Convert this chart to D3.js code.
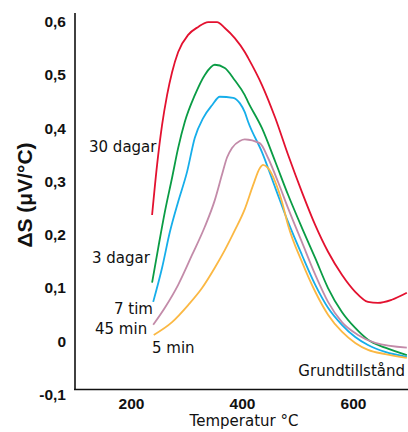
<!DOCTYPE html>
<html>
<head>
<meta charset="utf-8">
<script src="https://cdn.jsdelivr.net/npm/d3@7/dist/d3.min.js"></script>
<style>
  body { margin: 0; background: #fff; }
  svg text { fill: #111; }
</style>
</head>
<body>
<div id="chart"></div>
<script>
// ------- Data -------
const yTicks = [-0.1, 0, 0.1, 0.2, 0.3, 0.4, 0.5, 0.6]
const xTicks = [200, 400, 600]

const red_T = [238, 247, 256, 265, 274, 285, 303, 321, 339, 355, 369, 387, 405, 411, 436, 460, 483, 508, 532, 555, 580, 604, 627, 645, 670, 697]
const red_v = [0.234, 0.328, 0.403, 0.459, 0.502, 0.54, 0.572, 0.587, 0.596, 0.596, 0.585, 0.566, 0.54, 0.529, 0.478, 0.416, 0.347, 0.277, 0.215, 0.165, 0.122, 0.09, 0.071, 0.069, 0.075, 0.088]

const green_T = [238, 249, 261, 274, 285, 297, 315, 333, 351, 369, 387, 405, 411, 436, 460, 483, 508, 532, 555, 580, 604, 627, 658, 697]
const green_v = [0.107, 0.172, 0.24, 0.304, 0.36, 0.409, 0.459, 0.497, 0.516, 0.51, 0.487, 0.459, 0.446, 0.397, 0.334, 0.272, 0.21, 0.153, 0.097, 0.052, 0.022, 0.0, -0.015, -0.029]

const blue_T = [240, 256, 270, 285, 301, 315, 330, 346, 360, 384, 396, 405, 411, 436, 460, 483, 508, 532, 555, 580, 604, 627, 658, 697]
const blue_v = [0.071, 0.135, 0.202, 0.259, 0.315, 0.379, 0.416, 0.44, 0.456, 0.454, 0.444, 0.427, 0.409, 0.352, 0.285, 0.221, 0.159, 0.103, 0.06, 0.028, 0.005, -0.01, -0.023, -0.032]

const mauve_T = [240, 261, 285, 310, 333, 351, 364, 373, 382, 396, 405, 432, 447, 465, 483, 508, 532, 555, 580, 609, 640, 697]
const mauve_v = [0.028, 0.06, 0.103, 0.159, 0.212, 0.262, 0.31, 0.342, 0.36, 0.373, 0.376, 0.369, 0.341, 0.296, 0.247, 0.183, 0.122, 0.071, 0.033, 0.009, -0.006, -0.015]

const yellow_T = [241, 274, 303, 328, 351, 369, 387, 405, 420, 432, 438, 447, 460, 472, 483, 508, 532, 555, 580, 604, 627, 658, 697]
const yellow_v = [0.009, 0.033, 0.065, 0.097, 0.135, 0.168, 0.205, 0.245, 0.29, 0.322, 0.328, 0.322, 0.296, 0.259, 0.215, 0.146, 0.09, 0.047, 0.015, -0.006, -0.019, -0.027, -0.034]

const series = [
  { name: "30 dagar", color: "#e3112f", T: red_T, v: red_v },
  { name: "3 dagar", color: "#0a9c45", T: green_T, v: green_v },
  { name: "7 tim", color: "#16aeea", T: blue_T, v: blue_v },
  { name: "45 min", color: "#c38ba9", T: mauve_T, v: mauve_v },
  { name: "5 min", color: "#fbb843", T: yellow_T, v: yellow_v }
]

// ------- Chart -------
const width = 408, height = 432
const tickFont = "'Liberation Sans', Arial, sans-serif"
const labelFont = "'DejaVu Sans', sans-serif"

const svg = d3.select("#chart").append("svg")
    .attr("width", width)
    .attr("height", height)

const xScale = d3.scaleLinear().domain([200, 600]).range([131, 353])
const yScale = d3.scaleLinear().domain([-0.1, 0.6]).range([393, 20])

// axis lines
svg.append("line")
   .attr("x1", 75).attr("x2", 75)
   .attr("y1", 13).attr("y2", 390)
   .attr("stroke", "#111").attr("stroke-width", 1.6)
svg.append("line")
   .attr("x1", 74).attr("x2", width)
   .attr("y1", 389.5).attr("y2", 389.5)
   .attr("stroke", "#111").attr("stroke-width", 1.6)

// tick labels
let yAxis = svg.append("g")
   .attr("transform", "translate(66,1.5)")
   .call(d3.axisLeft(yScale).tickValues(yTicks).tickSize(0)
     .tickFormat(d => d === 0 ? "0" : d3.format(".1f")(d).replace(".", ",").replace("−", "-")))
yAxis.select(".domain").remove()
yAxis.selectAll("text")
     .attr("x", 0)
     .style("font-size", "15.5px")
     .style("font-weight", "bold")
     .style("font-family", tickFont)
     .attr("fill", "#111")

let xAxis = svg.append("g")
   .attr("transform", "translate(0,398)")
   .call(d3.axisBottom(xScale).tickValues(xTicks).tickSize(0))
xAxis.select(".domain").remove()
xAxis.selectAll("text")
     .attr("y", 0)
     .style("font-size", "15.5px")
     .style("font-weight", "bold")
     .style("font-family", tickFont)
     .attr("fill", "#111")

// axis titles
svg.append("text")
   .attr("x", xScale(400) + 2)
   .attr("y", 426)
   .attr("text-anchor", "middle")
   .style("font-size", "15px")
   .style("font-family", labelFont)
   .text("Temperatur °C")

svg.append("text")
   .attr("transform", "translate(32,195) rotate(-90)")
   .attr("text-anchor", "middle")
   .style("font-size", "21px")
   .style("font-weight", "bold")
   .style("font-family", tickFont)
   .text("ΔS (μV/°C)")

// curves
let line = d3.line()
    .x(d => xScale(d[0]))
    .y(d => yScale(d[1]))
    .curve(d3.curveMonotoneX)

series.forEach(s => {
  svg.append("path")
     .datum(s.T.map((t, i) => [t, s.v[i]]))
     .attr("d", line)
     .attr("fill", "none")
     .attr("stroke", s.color)
     .attr("stroke-width", 1.8)
})

// curve labels
const labels = [
  { text: "30 dagar", x: 89, y: 152, anchor: "start" },
  { text: "3 dagar", x: 92, y: 263, anchor: "start" },
  { text: "7 tim", x: 114, y: 314, anchor: "start" },
  { text: "45 min", x: 95, y: 334, anchor: "start" },
  { text: "5 min", x: 152, y: 353, anchor: "start" },
  { text: "Grundtillstånd", x: 405, y: 376, anchor: "end" }
]
svg.selectAll(".curve_label")
   .data(labels)
   .enter()
   .append("text")
   .attr("class", "curve_label")
   .attr("x", d => d.x)
   .attr("y", d => d.y)
   .attr("text-anchor", d => d.anchor)
   .style("font-size", "15px")
   .style("font-family", labelFont)
   .text(d => d.text)
</script>
</body>
</html>
